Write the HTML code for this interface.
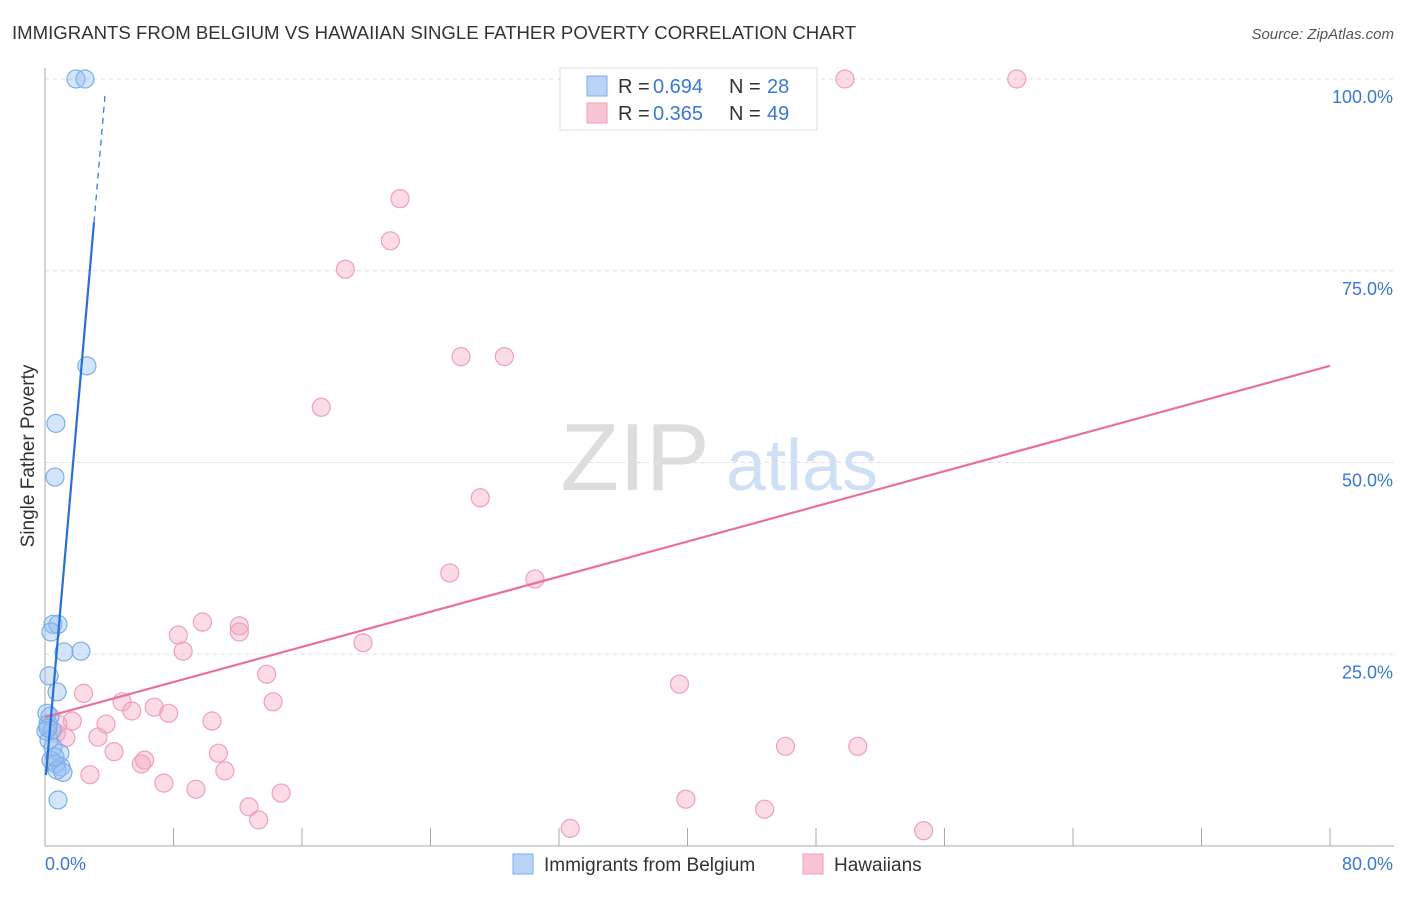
<!DOCTYPE html>
<html><head><meta charset="utf-8"><style>
body{margin:0;background:#fff;font-family:"Liberation Sans",sans-serif;}
svg text{font-family:"Liberation Sans",sans-serif;}
</style></head><body>
<svg width="1406" height="892" viewBox="0 0 1406 892" xmlns="http://www.w3.org/2000/svg">
<text x="12" y="39" font-size="18.6" fill="#333">IMMIGRANTS FROM BELGIUM VS HAWAIIAN SINGLE FATHER POVERTY CORRELATION CHART</text>
<text x="1394" y="39" font-size="15" fill="#555" font-style="italic" text-anchor="end">Source: ZipAtlas.com</text>
<g>
<text x="635" y="490" font-size="96" fill="#ddd" text-anchor="middle" font-family="Liberation Serif">ZIP</text>
<text x="802" y="490" font-size="72" fill="#cfe0f5" text-anchor="middle">atlas</text>
</g>
<g id="grid"></g>
<g id="axes"></g>
<g id="pts"></g>
<g id="lines"></g>
<text transform="translate(34,456) rotate(-90)" font-size="19" fill="#333" text-anchor="middle">Single Father Poverty</text>
<g>
<rect x="560" y="68" width="257" height="62" fill="#fff" stroke="#ddd"/>
<rect x="587" y="76" width="20" height="20" fill="#b8d3f5" stroke="#7aaee8"/>
<rect x="587" y="103" width="20" height="20" fill="#f9c5d5" stroke="#eea0bb"/>
<text x="618" y="93" font-size="20" fill="#333">R =</text>
<text x="653" y="93" font-size="20" fill="#3a78d6">0.694</text>
<text x="729" y="93" font-size="20" fill="#333">N =</text>
<text x="767" y="93" font-size="20" fill="#3a78d6">28</text>
<text x="618" y="120" font-size="20" fill="#333">R =</text>
<text x="653" y="120" font-size="20" fill="#3a78d6">0.365</text>
<text x="729" y="120" font-size="20" fill="#333">N =</text>
<text x="767" y="120" font-size="20" fill="#3a78d6">49</text>
</g>
<g>
<rect x="513" y="854" width="20" height="20" fill="#b8d3f5" stroke="#7aaee8"/>
<text x="544" y="871" font-size="19" fill="#333">Immigrants from Belgium</text>
<rect x="803" y="854" width="20" height="20" fill="#f9c5d5" stroke="#eea0bb"/>
<text x="834" y="871" font-size="19" fill="#333">Hawaiians</text>
</g>
</svg>
<script>
const xTicks=[0,8,16,24,32,40,48,56,64,72,80];
const yTicks=[25,50,75,100];
const yTickLabels=["25.0%","50.0%","75.0%","100.0%"];
const xEndLabels=["0.0%","80.0%"];
const belgiumX=[1.93,2.49,2.61,0.68,0.62,0.50,0.81,0.37,1.18,2.24,0.25,0.75,0.12,0.31,0.19,0.06,0.25,0.50,0.93,0.37,0.68,1.00,0.75,1.12,0.81,0.44,0.19,0.62];
const belgiumY=[100,100,62.6,55.1,48.1,28.9,28.9,27.9,25.3,25.4,22.2,20.1,17.3,16.9,15.9,15.0,13.8,12.9,12.1,11.2,10.7,10.3,9.9,9.6,6.0,15.1,15.4,11.6];
const hawaiiX=[49.8,60.5,22.1,21.5,18.7,25.9,28.6,17.2,27.1,25.2,30.5,9.8,12.1,8.3,12.1,19.8,8.6,13.8,39.5,2.4,4.8,14.2,6.8,5.4,7.7,1.7,10.4,3.8,0.8,3.3,1.3,0.7,4.3,10.8,46.1,50.6,6.2,6.0,11.2,2.8,7.4,9.4,14.7,39.9,12.7,44.8,13.3,32.7,54.7];
const hawaiiY=[100,100,84.4,78.9,75.2,63.8,63.8,57.2,45.4,35.6,34.8,29.2,28.7,27.5,27.9,26.5,25.4,22.4,21.1,19.9,18.8,18.8,18.1,17.6,17.3,16.3,16.3,15.9,15.9,14.2,14.1,14.7,12.3,12.1,13.0,13.0,11.2,10.7,9.8,9.3,8.2,7.4,6.9,6.1,5.1,4.8,3.4,2.3,2.0];
const belgiumTrend=[7.8,24.1]; // intercept, slope
const hawaiiTrend=[16.8,0.5725];
const NS="http://www.w3.org/2000/svg";
const X=v=>45+v/80*1285, Y=v=>846-v/100*767;
function mk(t,a,p){const e=document.createElementNS(NS,t);for(const k in a)e.setAttribute(k,a[k]);p.appendChild(e);return e;}
const grid=document.getElementById('grid'),axes=document.getElementById('axes'),pts=document.getElementById('pts'),lines=document.getElementById('lines');
yTicks.forEach((t,i)=>{
  const l=mk('line',{x1:45,x2:1394,y1:Y(t),y2:Y(t),stroke:'#ddd','stroke-dasharray':'4,4'},grid);
  
  
  const tx=mk('text',{x:1393,y:Y(t)+24,'font-size':18,fill:'#3a78d6','text-anchor':'end'},axes);
  tx.textContent=yTickLabels[i];
  
  
});
mk('line',{x1:45,x2:45,y1:68,y2:846,stroke:'#aaa'},axes);
mk('line',{x1:45,x2:1394,y1:846,y2:846,stroke:'#aaa'},axes);
xTicks.forEach(t=>{
  const l=mk('line',{x1:X(t),x2:X(t),y1:828,y2:846,stroke:'#aaa'},axes);
  
  
});
const t0=mk('text',{x:45,y:870,'font-size':18,fill:'#3a78d6'},axes);t0.textContent=xEndLabels[0];


const t1=mk('text',{x:1393,y:870,'font-size':18,fill:'#3a78d6','text-anchor':'end'},axes);t1.textContent=xEndLabels[1];


hawaiiX.forEach((x,i)=>{
  const c=mk('circle',{cx:X(x),cy:Y(hawaiiY[i]),r:9,fill:'rgba(244,165,192,0.4)',stroke:'#eea0bb','stroke-width':1.2},pts);
  
  
});
belgiumX.forEach((x,i)=>{
  const c=mk('circle',{cx:X(x),cy:Y(belgiumY[i]),r:9,fill:'rgba(150,190,240,0.4)',stroke:'#7aaee8','stroke-width':1.2},pts);
  
  
});
const hl=mk('line',{x1:X(0),y1:Y(hawaiiTrend[0]),x2:X(80),y2:Y(hawaiiTrend[0]+80*hawaiiTrend[1]),stroke:'#e8709a','stroke-width':2.2},lines);


const bx0=0.06,bx1=3.05,bx2=3.74;
const bl=mk('line',{x1:X(bx0),y1:Y(belgiumTrend[0]+bx0*belgiumTrend[1]),x2:X(bx1),y2:Y(belgiumTrend[0]+bx1*belgiumTrend[1]),stroke:'#2a6fd6','stroke-width':2.2},lines);


const bd=mk('line',{x1:X(bx1),y1:Y(belgiumTrend[0]+bx1*belgiumTrend[1]),x2:X(bx2),y2:Y(belgiumTrend[0]+bx2*belgiumTrend[1]),stroke:'#2a6fd6','stroke-width':1.2,'stroke-dasharray':'6,5'},lines);


</script>
</body></html>
